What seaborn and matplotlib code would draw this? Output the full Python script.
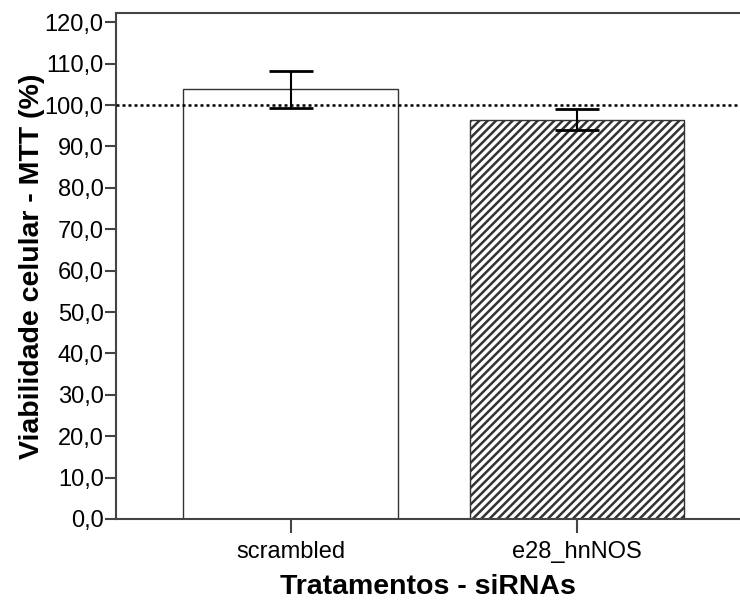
import matplotlib
matplotlib.use("Agg")
import matplotlib.pyplot as plt
import seaborn as sns
import pandas as pd

categories = ["scrambled", "e28_hnNOS"]
means = [103.8, 96.5]
errors = [4.4, 2.6]
yticks = [0, 10, 20, 30, 40, 50, 60, 70, 80, 90, 100, 110, 120]
ref_line = 100

sns.set_style("white")
plt.rcParams["font.family"] = ["Liberation Sans", "DejaVu Sans"]
plt.rcParams["hatch.linewidth"] = 1.8
plt.rcParams["hatch.color"] = "black"
plt.rcParams["text.color"] = "black"
plt.rcParams["axes.labelcolor"] = "black"
plt.rcParams["xtick.color"] = "black"
plt.rcParams["ytick.color"] = "black"

df = pd.DataFrame({"trat": categories, "val": means})

fig = plt.figure(figsize=(7.4, 6.0), dpi=100)
ax = fig.add_axes([0.157, 0.135, 0.843, 0.843])

sns.barplot(data=df, x="trat", y="val", color="white", edgecolor="#333333",
            linewidth=1.0, width=0.75, errorbar=None, ax=ax, saturation=1)
for p in ax.patches:
    p.set_facecolor("white")
ax.patches[1].set_hatch("////")

ax.errorbar(range(len(categories)), means, yerr=errors, fmt="none",
            ecolor="black", elinewidth=1.5, capsize=16, capthick=2.0, zorder=4)

ax.axhline(ref_line, color="black", lw=1.8, dashes=(1.2, 1.2), zorder=3)

ax.set_xlim(-0.61, 1.57)
ax.set_ylim(0, 122.2)
ax.set_yticks(yticks)
ax.set_yticklabels([f"{v:.1f}".replace(".", ",") for v in yticks])

for s in ["left", "bottom", "top"]:
    ax.spines[s].set_color("#444444")
    ax.spines[s].set_linewidth(1.5)
ax.spines["right"].set_visible(False)

ax.tick_params(axis="both", which="both", direction="out", length=8, width=1.5,
               color="#444444", labelsize=17, left=True, bottom=True,
               labelcolor="black")
ax.tick_params(axis="y", pad=1)
ax.tick_params(axis="x", length=10, pad=6)

ax.set_xlabel("Tratamentos - siRNAs", fontsize=20.5, fontweight="bold", labelpad=8)
ax.set_ylabel("Viabilidade celular - MTT (%)", fontsize=20.5, fontweight="bold", labelpad=0)

fig.savefig("out.png", dpi=100)
